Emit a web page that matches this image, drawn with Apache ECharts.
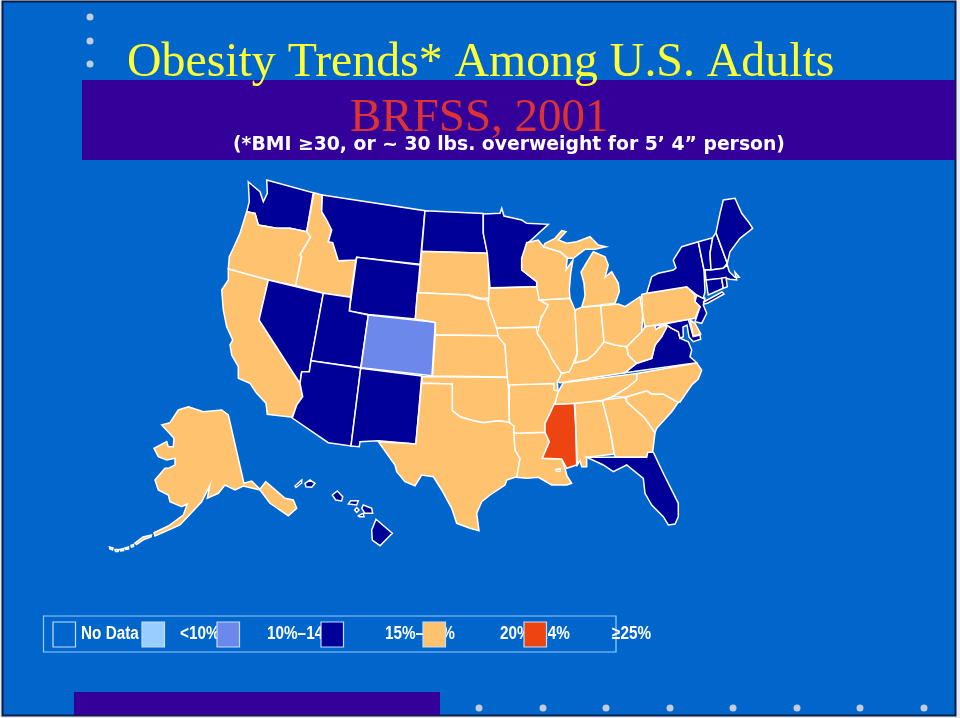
<!DOCTYPE html>
<html>
<head>
<meta charset="utf-8">
<title>Obesity Trends 2001</title>
<script src="https://cdn.jsdelivr.net/npm/echarts@6/dist/echarts.min.js"></script>
<style>
    html, body { margin: 0; padding: 0; background: #fff; }
    #chart { width: 960px; height: 718px; }
</style>
</head>
<body>
<div id="chart"></div>
<script>
// Legend bands, lowest first
const legendLabels = ["No Data", "<10%", "10%–14%", "15%–19%", "20%–24%", "≥25%"];
const bandColors = ["#0066CC", "#99CCFF", "#6C88EA", "#000099", "#FFC26E", "#EE4411"];

// Band of each state (index into legendLabels)
const band0Areas = ["Pontchartrain"];
const band3States = ["WA", "MT", "ND", "WY", "NV", "UT", "AZ", "NM", "MN", "NY", "VT", "NH", "ME", "MA", "CT", "RI", "NJ", "MD", "VA", "FL", "HI"];
const band2States = ["CO"];
const band5States = ["MS"];
const band4States = ["OR", "ID", "CA", "SD", "NE", "KS", "OK", "TX", "IA", "MO", "AR", "LA", "WI", "IL", "MI", "IN", "OH", "KY", "TN", "AL", "GA", "SC", "NC", "WV", "PA", "DE", "AK"];

// State outlines (one list per landmass)
const stateOutlines = {
    WA: [[[248.3,181.7],[252,185],[260,191.7],[263.3,201.7],[267.3,193.3],[266.7,180],[313.3,192.7],[306.7,231.7],[290,228.3],[276.7,228.3],[258.3,225],[255,213.3],[246.7,211.7],[249.3,201.7]]],
    OR: [[[246.7,211.7],[255,213.3],[258.3,225],[276.7,228.3],[290,228.3],[306.7,231.7],[310.7,236.7],[300,255],[301.7,256.7],[295.7,285.7],[268.3,280],[228.3,269],[229.3,256.7],[233.3,248.3],[240,233.3]]],
    ID: [[[314,192.7],[322.3,195],[321.7,211.7],[326.7,220],[331.7,230],[328.3,241.7],[332.7,242.7],[338.3,260.7],[355.7,260],[350.7,297],[323.3,293.3],[295.7,285.7],[301.7,256.7],[300,255],[310.7,236.7],[306.7,231.7]]],
    MT: [[[322.3,195],[425,210.7],[420,264.3],[356.7,257.3],[355.7,260],[338.3,260.7],[332.7,242.7],[328.3,241.7],[331.7,230],[326.7,220],[321.7,211.7]]],
    ND: [[[425,210.7],[483.3,213.5],[483.3,233],[487.5,253.3],[421.7,251.3]]],
    SD: [[[421.7,251.5],[487.5,253.3],[488.3,261.7],[489.3,298.3],[480,298.3],[468.3,295],[418.3,292.7]]],
    WY: [[[356.7,257.3],[420,265],[415.3,319],[368.3,314.5],[349.3,311]]],
    CA: [[[228.3,269],[268.3,280],[259,320],[300,383.3],[302.7,396.7],[296.7,405],[292.3,417.3],[267.3,414.3],[266,403.3],[256.7,393.3],[250,383.3],[238.3,378.3],[238.3,366.7],[231.7,355],[230,345],[232.7,340],[226.7,326.7],[223.3,310],[221.7,290],[228.3,280]]],
    NV: [[[268.3,280],[323.3,293.3],[311,360.7],[309.3,371.7],[301.7,371.7],[300,383.3],[259,320]]],
    UT: [[[323.3,293.3],[350.7,297.3],[349.3,311],[368.3,315],[360.7,367.8],[311,360.7]]],
    AZ: [[[311,360.7],[360.7,368],[351,446],[328.3,442.7],[292.3,418],[296.7,405],[302.7,396.7],[300,383.3],[301.7,371.7],[309.3,371.7]]],
    CO: [[[368.3,315],[435.3,322.3],[432,375.7],[361,367.7]]],
    NM: [[[360.7,368.3],[421.7,376],[416,444],[378.3,440.7],[360,441.7],[359.3,446.7],[351,446]]],
    NE: [[[417.3,292.7],[468.3,295],[476.7,298.3],[487.3,300],[492,310],[497,328],[498.3,335.7],[435.3,335],[435.3,322.3],[415.3,319]]],
    KS: [[[435.3,335],[498.3,335.7],[505,345],[507.5,377],[432.5,376]]],
    OK: [[[422.3,376.5],[508.3,377.5],[509.3,422.3],[498.3,420.7],[483.3,422.7],[473.3,420.7],[460,416.7],[452.3,410.7],[452.3,384],[421.7,383.3]]],
    TX: [[[421.7,383.3],[452.3,384],[452.3,410.7],[460,416.7],[473.3,420.7],[483.3,422.7],[498.3,420.7],[509.3,422.3],[514,426],[514,433.3],[515,450],[520,458.3],[518.3,470],[516.7,476.7],[506.7,480],[505,485],[490,495],[481.7,501.7],[476.7,513.3],[479,530.7],[470,528.3],[456.7,523.3],[451.7,508.3],[441.7,490],[433.3,476.7],[421.7,475],[415,485.7],[405,481.7],[396.7,471.7],[395,465],[378.3,441.7],[415.7,444]]],
    LA: [[[514,433.3],[545,432.3],[549.3,441.7],[542.3,458.3],[561.7,459],[565,468.3],[567,476],[571.7,483.3],[566.7,485],[551.7,485],[538.3,477.3],[526.7,478.3],[516.7,477.3],[520,458.3],[515,450]]],
    Pontchartrain: [[[556,469.5],[560.5,468.5],[560,471],[556.5,471]]],
    AR: [[[509.3,384.5],[554,383.5],[558.3,391.7],[555,403.3],[550,413.3],[545,423.3],[545,432.3],[514,433.3],[514,426],[509.3,422.3]]],
    MS: [[[554,404.3],[574.3,403.3],[575.7,426.7],[576.7,465],[566.7,468.3],[561.7,459],[542.3,458.3],[549.3,441.7],[545,432.3],[545,423.3],[550,413.3]]],
    AL: [[[575,403.3],[602.3,400.7],[610,430],[614,454],[586.7,457.3],[586.7,466.7],[581.7,466.7],[580,460.7],[577.3,465]]],
    GA: [[[602.3,400],[625,397.3],[626.7,401.7],[645,418.3],[655,432.7],[652.7,451.7],[646.7,457.3],[615,457.3],[610,430]]],
    FL: [[[586.7,457.3],[615,457.3],[646.7,457.3],[647.7,452.3],[653.3,452.3],[663.3,473.3],[678.3,503.3],[678.3,516.7],[675,524],[668.3,525],[663.3,516.7],[651.7,505],[645,493.3],[643.3,478.3],[626.7,465],[613.3,471.7],[603.3,465]]],
    SC: [[[626.7,396.7],[646.7,390.7],[651.7,394],[663.3,394],[678.3,402.3],[671.7,411.7],[656.7,428.3],[655,432.7],[645,418.3],[626.7,401.7]]],
    NC: [[[636.7,373.5],[696.7,363],[701.7,370],[698.3,379],[691.7,385],[680,402],[678.3,402.3],[663.3,394],[651.7,394],[646.7,390.7],[626.7,396.7],[612,397],[626.7,388],[636.7,380]]],
    TN: [[[563.3,382.7],[636.7,373.5],[636.7,380],[626.7,388],[612,397],[602,400.5],[575,403.3],[554,404.5],[555,403.3],[558.3,391.7]]],
    KY: [[[604,341.7],[615,345],[626.7,346.7],[628.3,355],[636.7,363.3],[625,372.7],[560,382.7],[557.3,381.7],[561.7,373.3],[569.3,371.7],[573.3,363.3],[586.7,360],[595,353.3]]],
    VA: [[[625,372.7],[696.7,362.7],[690,356.7],[691.7,350],[688.3,341.7],[680,338.3],[678.3,331.7],[671.7,328.3],[666.7,325],[661.7,336.7],[655,345],[651.7,358.3],[636.7,363.3]]],
    WV: [[[645,326.7],[655,325],[656,329.3],[665,325],[666.7,327.3],[661.7,336.7],[655,345],[651.7,358.3],[636.7,363.3],[628.3,355],[626.7,346.7],[633.3,340],[641.7,331.7]]],
    MD: [[[655,326],[688.3,319.3],[693.3,336.7],[700,335],[700.7,339.3],[693.3,341.7],[689,337],[687,325],[683,327],[683.3,336.7],[680,338.3],[678.3,331.7],[671.7,328.3],[666.7,325],[661.7,325],[656,329.3]]],
    DE: [[[690,320],[695,323.3],[700.7,334],[693.3,336]]],
    NJ: [[[696.7,295],[705,298.3],[703.3,305],[706.7,313.3],[701.7,323.3],[695,321.7],[700,306.7],[695,301.7]]],
    PA: [[[641.7,294.5],[646.7,293.3],[686.7,286.7],[695,295],[695,301.7],[700,306.7],[695,318.3],[645,326.7],[642.7,315]]],
    NY: [[[646.7,293.3],[651.7,276.7],[658.3,273.3],[673.3,270],[676,268],[673.3,260],[681.7,246.7],[698.3,241.7],[704,270],[705,291.7],[703.3,298.3],[696.7,295],[686.7,286.7]], [[703.5,302],[722,292],[724,294],[708,303],[704,304]]],
    VT: [[[698.3,241.7],[712.7,237.7],[710,253.3],[711,269.5],[704,270]]],
    NH: [[[712.7,237.7],[716,232.7],[727.3,263.3],[723.3,268.3],[711,270],[710,253.3]]],
    ME: [[[716,232.7],[720,213.3],[723.3,200],[735,198.3],[741.7,213.3],[748.3,221.7],[752.7,228.3],[740,238.3],[730,251.7],[727.3,263.3]]],
    MA: [[[705,270],[711,270],[723.3,268.3],[727.3,265],[729.3,271.7],[735,277.3],[739.3,277.3],[735,272.3],[736.7,280],[730,279.3],[726,278.3],[706,280]]],
    CT: [[[706,280],[721.7,278.3],[723.3,288.3],[708.3,295],[707.7,291.7]]],
    RI: [[[721.7,278.3],[726,277.3],[727.3,286.7],[723.3,288.3]]],
    MN: [[[483.3,214],[500,213.3],[501.7,208.3],[504,216],[521.7,220],[526.7,223.3],[548.3,224.3],[528.3,242.7],[525,251.7],[521.7,258.3],[521.7,270],[536.7,281.7],[536.7,286.7],[490,287.7],[487.3,253.3],[483.3,233.3]]],
    IA: [[[489.3,288.3],[536.7,286.7],[540,296.7],[548.3,305],[546.7,311.7],[541,316.7],[540,326.7],[496.7,328.3],[488.3,305]]],
    MO: [[[496.7,328.3],[536.7,327.3],[537.3,333.3],[548.3,350],[551.7,358.3],[561.7,373.3],[557.3,381.7],[558,391],[554,390],[554,383.5],[508.3,385],[507.3,377.7],[505,345],[498.3,336.7]]],
    IL: [[[539.3,300],[570,298.3],[575,310],[577.3,353.3],[573.3,363.3],[569.3,371.7],[561.7,373.3],[551.7,358.3],[548.3,350],[537.3,333.3],[541,318.3],[548.3,305]]],
    WI: [[[521.7,258.3],[526.7,242.7],[538.3,240],[543.3,246.7],[560,251.7],[567.3,258.3],[566,270],[573,260],[570.7,273.3],[569.3,290],[570,298.3],[539.3,300],[536.7,286.7],[536.7,281.7],[521.7,270]]],
    MI: [[[545,243.3],[555,238.3],[561.7,230.7],[566,231.7],[558.3,240],[566.7,243.3],[576.7,241.7],[590,236.7],[598.3,245],[606,246.7],[595,249.3],[585,249.3],[573.3,258.3],[568.3,258.3],[560,251.7],[543.3,246.7]], [[593.3,251.7],[605,256.7],[608.3,265],[605,277.3],[611.7,271.7],[618.3,283.3],[619.3,291.7],[615,303.3],[581.7,307.3],[585,296],[584,283],[581,272],[587,262]]],
    IN: [[[575,310],[581.7,307.3],[600.7,305.7],[604,341.7],[595,353.3],[586.7,360],[575,362.7],[577.3,353.3]]],
    OH: [[[600.7,305.7],[618.3,304],[625,306.7],[640,296.7],[642.7,315],[641.7,331.7],[633.3,340],[626.7,346.7],[615,345],[604,341.7]]],
    AK: [[[188.3,406.7],[203.3,411.7],[221.7,410],[228.3,415],[244,483.3],[251.7,481],[260,489.3],[265.7,481.7],[285,498.3],[293.3,500],[296.7,508.3],[288.3,515.7],[270,503.3],[260,490],[243.3,486],[235,490],[225,485],[218.3,493.3],[207.3,498.3],[210,485],[201.7,501.7],[180,525],[155,536],[154,532.7],[168.3,526],[183.3,515],[187.3,504],[181.7,506.7],[170,501.7],[168.3,495],[158.3,490],[155,480],[165,468.3],[168.3,468.3],[175,465],[175,458.3],[166.7,460],[158.3,456.7],[154,448.3],[166.7,441.7],[168.3,446.7],[173.3,446.7],[174,438.3],[161.7,425],[170,422.7],[178.3,410]],
        [[135,543],[143,537],[151.5,535],[151,537],[144,539.5],[136.5,544.5]], [[109.5,547],[113,548],[112.5,550],[110,549]], [[115,549.5],[118.5,549.5],[118,551.5],[115.5,551.5]], [[120,549.5],[123.5,548.5],[123.5,550.5],[120.5,551]], [[125,548],[128.5,547],[128.5,549],[125.5,549.5]], [[131,545.5],[133.5,544.5],[133.5,546.5],[131.5,547]]],
    HI: [[[295,486],[301.7,480],[301.7,483],[296,487.5]], [[305,483.3],[310,480],[315,483.3],[311.7,487.3],[306,486.7]], [[332.3,495],[337.3,491],[342.7,496.7],[341.7,501],[335.7,500]], [[348.3,504],[350.7,500.7],[358.3,500.7],[356.7,505]], [[354.7,510],[356.7,507.7],[359,510],[356.7,512.3]], [[361.7,508.3],[363.3,505],[371.7,508.3],[372.7,513.3],[365,513.3]], [[358.3,515.7],[363.3,513.3],[364,516.7],[359.3,516.7]], [[376,519.3],[392.3,533.3],[380,545.7],[372.3,540],[371.7,530]]]
};

// GeoJSON has latitude pointing up, so the traced y is negated here
const usaGeo = {
    type: "FeatureCollection",
    features: Object.keys(stateOutlines).map(function(name) {
        return {
            type: "Feature",
            properties: {name: name},
            geometry: {
                type: "MultiPolygon",
                coordinates: stateOutlines[name].map(function(ring) {
                    return [ring.concat([ring[0]]).map(function(p) { return [p[0], -p[1]]; })];
                })
            }
        };
    })
};
echarts.registerMap("usa", usaGeo);

function bandData(names, band) {
    return names.map(function(name) { return {name: name, value: band}; });
}
const mapData = [].concat(
    bandData(band0Areas, 0),
    bandData(band2States, 2),
    bandData(band3States, 3),
    bandData(band4States, 4),
    bandData(band5States, 5)
);

const panelBlue = "#0066CC";
const bannerPurple = "#330099";
const dotGrey = "#C4CCDC";

// Slide decoration
const graphics = [
    {type: "rect", z: 0, shape: {x: 2.5, y: 1.5, width: 953, height: 714}, style: {fill: panelBlue, stroke: "#0B1E48", lineWidth: 2}},
    {type: "rect", z: 1, shape: {x: 82, y: 80, width: 873, height: 80}, style: {fill: bannerPurple}},
    {type: "rect", z: 1, shape: {x: 74, y: 692, width: 366, height: 23}, style: {fill: bannerPurple}}
];
[17, 41, 64].forEach(function(y) {
    graphics.push({type: "circle", z: 1, shape: {cx: 90, cy: y, r: 3.5}, style: {fill: dotGrey}});
});
[479, 543, 606, 670, 733, 797, 860, 924].forEach(function(x) {
    graphics.push({type: "circle", z: 1, shape: {cx: x, cy: 708, r: 3.5}, style: {fill: dotGrey}});
});

// Legend: the swatches sit on top of the labels, as in the slide
const swatchLeft = [53, 142, 217, 321, 423, 524];
const labelLeft = [81, 180, 267, 385, 500, 612];
graphics.push({type: "rect", z: 3, shape: {x: 43.5, y: 616, width: 572.5, height: 36}, style: {fill: "none", stroke: "#9CCBFF", lineWidth: 1.2}});
legendLabels.forEach(function(label, i) {
    graphics.push({
        type: "text", z: 4, x: labelLeft[i], y: 634, scaleX: 0.85,
        style: {text: label, fill: "#fff", font: "bold 18px 'Liberation Sans'", textVerticalAlign: "middle"}
    });
    graphics.push({
        type: "rect", z: 5, shape: {x: swatchLeft[i], y: 622, width: 22.5, height: 25},
        style: {fill: bandColors[i], stroke: "#C4DEFA", lineWidth: 1.2}
    });
});

const chart = echarts.init(document.getElementById("chart"));
const option = {
    animation: false,
    backgroundColor: "#E9E9F2",
    title: [{
        text: "BRFSS, 2001",
        left: 350, top: 95,
        textStyle: {color: "#DD3333", fontFamily: "Liberation Serif", fontSize: 47, fontWeight: "normal"},
        padding: 0
    }, {
        text: "Obesity Trends* Among U.S. Adults",
        left: 127, top: 39,
        textStyle: {color: "#FFFF33", fontFamily: "Liberation Serif", fontSize: 47.8, fontWeight: "normal"},
        padding: 0
    }, {
        text: "(*BMI ≥30, or ~ 30 lbs. overweight for 5’ 4” person)",
        left: 233, top: 135.5,
        textStyle: {color: "#fff", fontFamily: "DejaVu Sans", fontSize: 18.8, fontWeight: "bold"},
        padding: 0
    }],
    visualMap: {
        show: false,
        type: "piecewise",
        seriesIndex: 0,
        pieces: bandColors.map(function(color, i) { return {value: i, color: color}; })
    },
    graphic: graphics,
    series: [{
        type: "map",
        map: "usa",
        silent: true,
        roam: false,
        aspectScale: 1,
        boundingCoords: [[0, 0], [960, -718]],
        left: 0, top: 0, width: 960, height: 718,
        label: {show: false},
        itemStyle: {borderColor: "#fff", borderWidth: 1.5},
        data: mapData
    }]
};
chart.setOption(option);
</script>
</body>
</html>
